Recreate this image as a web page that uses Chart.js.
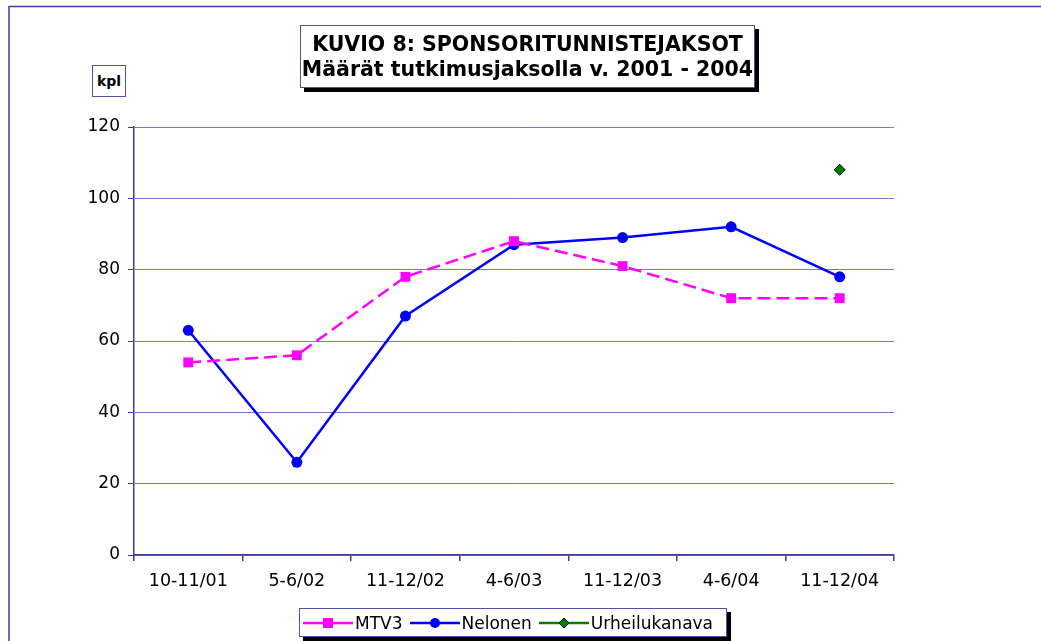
<!DOCTYPE html>
<html>
<head>
<meta charset="utf-8">
<script src="https://cdn.jsdelivr.net/npm/chart.js@4/dist/chart.umd.min.js"></script>
<style>
  html, body { margin: 0; padding: 0; background: #fff; }
  #wrap { position: relative; width: 1041px; height: 641px; font-family: "DejaVu Sans", Verdana, sans-serif; overflow: hidden; }
  #chart { position: absolute; left: 0; top: 0; }
  .box { position: absolute; background: #fff; border: 1px solid #5050a8; box-shadow: 4px 4px 0 #000; color: #000; box-sizing: border-box; }
  #title { left: 300px; top: 25px; width: 455px; height: 63px; text-align: center; font-weight: bold; font-size: 20.5px; line-height: 25px; padding-top: 6px; white-space: nowrap; }
  #kpl { left: 92px; top: 65px; width: 34px; height: 32px; font-size: 14px; font-weight: bold; text-align: center; line-height: 30px; box-shadow: none; }
  #legend { left: 299px; top: 608px; width: 428px; height: 29px; font-size: 17px; display: flex; align-items: center; padding-left: 3px; white-space: nowrap; }
  .item { display: flex; align-items: center; margin-right: 7px; }
  .item canvas { margin-right: 2px; }
</style>
</head>
<body>
<div id="wrap">
  <canvas id="chart" width="1041" height="641"></canvas>
  <div id="title" class="box">KUVIO 8: SPONSORITUNNISTEJAKSOT<br>Määrät tutkimusjaksolla v. 2001 - 2004</div>
  <div id="kpl" class="box">kpl</div>
  <div id="legend" class="box"></div>
</div>
<script>
const categories = ["10-11/01", "5-6/02", "11-12/02", "4-6/03", "11-12/03", "4-6/04", "11-12/04"];
const mtv3 = [54, 56, 78, 88, 81, 72, 72];
const nelonen = [63, 26, 67, 87, 89, 92, 78];
const urheilukanava = [null, null, null, null, null, null, 108];

const axisColor = "#3c3ca0";
const gridColor = "#7878c4";

// outer frame of the chart object (top and left edges visible)
const framePlugin = {
    id: "frame",
    beforeDraw(chart) {
        const ctx = chart.ctx;
        ctx.save();
        ctx.strokeStyle = axisColor;
        ctx.lineWidth = 1.5;
        ctx.beginPath();
        ctx.moveTo(9, 645); ctx.lineTo(9, 6.5); ctx.lineTo(1045, 6.5);
        ctx.stroke();
        ctx.restore();
    }
};

const ctx = document.getElementById("chart").getContext("2d");
const chart = new Chart(ctx, {
    type: "line",
    data: {
        labels: categories,
        datasets: [{
            label: "MTV3",
            data: mtv3,
            borderColor: "#ff00ff",
            backgroundColor: "#ff00ff",
            borderWidth: 2.5,
            borderDash: [13, 6],
            pointStyle: "rect",
            pointRadius: 7,
            pointBorderWidth: 0,
            tension: 0
        }, {
            label: "Nelonen",
            data: nelonen,
            borderColor: "#0000ff",
            backgroundColor: "#0000ff",
            borderWidth: 2.5,
            pointStyle: "circle",
            pointRadius: 5.5,
            pointBorderWidth: 0,
            tension: 0
        }, {
            label: "Urheilukanava",
            data: urheilukanava,
            borderColor: "#008000",
            backgroundColor: "#008000",
            borderWidth: 2,
            pointStyle: "rectRot",
            pointRadius: 5.5,
            pointBorderColor: "#000",
            pointBorderWidth: 1,
            tension: 0
        }]
    },
    options: {
        responsive: false,
        animation: false,
        layout: { padding: { top: 127, right: 147, bottom: 0, left: 0 } },
        plugins: {
            legend: { display: false },
            title: { display: false },
            tooltip: { enabled: false }
        },
        scales: {
            x: {
                offset: true,
                afterFit: (scale) => { scale.height = 86; },
                grid: { offset: true, drawOnChartArea: false, color: axisColor, tickLength: 6, lineWidth: 1.5 },
                border: { color: axisColor, width: 1.5 },
                ticks: { color: "#000", font: { family: "DejaVu Sans", size: 17.5 }, padding: 10, maxRotation: 0 }
            },
            y: {
                min: 0,
                max: 120,
                afterFit: (scale) => { scale.width = 134; },
                grid: { color: gridColor, tickLength: 6, lineWidth: 1, tickColor: axisColor },
                border: { color: axisColor, width: 1.5 },
                ticks: { stepSize: 20, color: "#000", font: { family: "DejaVu Sans", size: 17 }, padding: 8 }
            }
        }
    },
    plugins: [framePlugin]
});

// build the legend from the datasets
const legend = document.getElementById("legend");
chart.data.datasets.forEach((ds) => {
    const item = document.createElement("div");
    item.className = "item";
    const c = document.createElement("canvas");
    c.width = 50; c.height = 20;
    const g = c.getContext("2d");
    g.strokeStyle = ds.borderColor;
    g.lineWidth = 2.5;
    g.beginPath(); g.moveTo(0, 10); g.lineTo(50, 10); g.stroke();
    g.fillStyle = ds.backgroundColor;
    g.strokeStyle = ds.pointBorderColor || ds.borderColor;
    g.lineWidth = ds.pointBorderWidth || 1;
    g.beginPath();
    if (ds.pointStyle === "rect") { g.rect(20, 5, 10, 10); }
    else if (ds.pointStyle === "circle") { g.arc(25, 10, 5, 0, Math.PI * 2); }
    else { g.moveTo(25, 5); g.lineTo(30, 10); g.lineTo(25, 15); g.lineTo(20, 10); g.closePath(); }
    g.fill();
    if (ds.pointBorderWidth) g.stroke();
    item.appendChild(c);
    const t = document.createElement("span");
    t.textContent = ds.label;
    item.appendChild(t);
    legend.appendChild(item);
});
</script>
</body>
</html>
